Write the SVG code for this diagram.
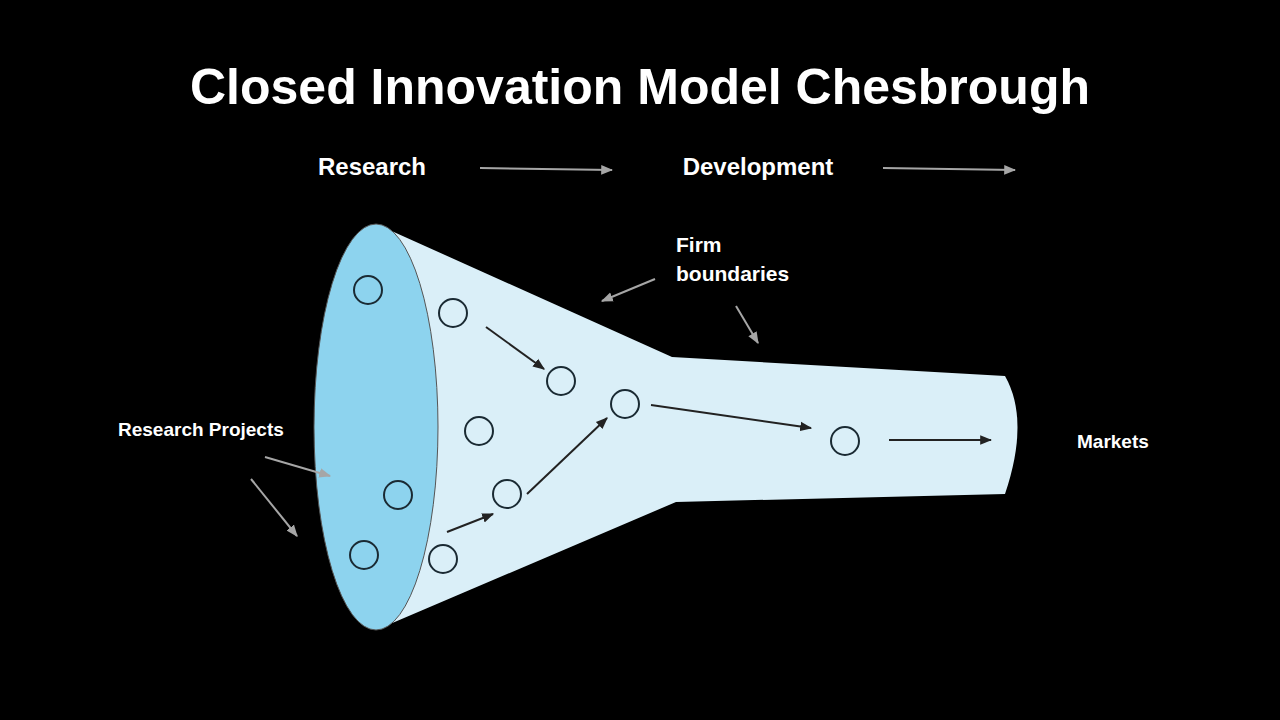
<svg xmlns="http://www.w3.org/2000/svg" width="1280" height="720" viewBox="0 0 1280 720">
<defs>
<marker id="ag" viewBox="0 0 10 10" refX="9" refY="5" markerWidth="6" markerHeight="6" orient="auto"><path d="M0,1 L10,5 L0,9 z" fill="#a6a6a6"/></marker>
<marker id="ad" viewBox="0 0 10 10" refX="9" refY="5" markerWidth="6" markerHeight="6" orient="auto"><path d="M0,1 L10,5 L0,9 z" fill="#222"/></marker>
<style>
text{font-family:"Liberation Sans",Arial,sans-serif;font-weight:bold;fill:#fff}
.c{fill:none;stroke:#1a2a33;stroke-width:2}
.g{stroke:#a6a6a6;stroke-width:2;fill:none;marker-end:url(#ag)}
.d{stroke:#222;stroke-width:2;fill:none;marker-end:url(#ad)}
</style>
</defs>
<rect width="1280" height="720" fill="#000"/>
<text x="640" y="104" font-size="50" text-anchor="middle">Closed Innovation Model Chesbrough</text>
<text x="372" y="175" font-size="24" text-anchor="middle">Research</text>
<text x="758" y="175" font-size="24" text-anchor="middle">Development</text>
<text x="676" y="252" font-size="21">Firm</text>
<text x="676" y="281" font-size="21">boundaries</text>
<text x="118" y="436" font-size="19">Research Projects</text>
<text x="1077" y="448" font-size="19">Markets</text>
<g id="funnel">
<path d="M376,224 L672,357 L1005,376 Q1030,420 1005,494 L676,502 L390,624 Z" fill="#daeff8"/>
<ellipse cx="376" cy="427" rx="62" ry="203" fill="#8dd3ee" stroke="#555" stroke-width="1"/>
</g>
<g id="nodes">
<circle class="c" cx="368" cy="290" r="14"/>
<circle class="c" cx="453" cy="313" r="14"/>
<circle class="c" cx="561" cy="381" r="14"/>
<circle class="c" cx="479" cy="431" r="14"/>
<circle class="c" cx="625" cy="404" r="14"/>
<circle class="c" cx="398" cy="495" r="14"/>
<circle class="c" cx="507" cy="494" r="14"/>
<circle class="c" cx="364" cy="555" r="14"/>
<circle class="c" cx="443" cy="559" r="14"/>
<circle class="c" cx="845" cy="441" r="14"/>
</g>
<g id="connectors">
<line class="g" x1="480" y1="168" x2="612" y2="170"/>
<line class="g" x1="883" y1="168" x2="1015" y2="170"/>
<line class="g" x1="655" y1="279" x2="602" y2="301"/>
<line class="g" x1="736" y1="306" x2="758" y2="343"/>
<line class="g" x1="265" y1="457" x2="330" y2="476"/>
<line class="g" x1="251" y1="479" x2="297" y2="536"/>
<line class="d" x1="486" y1="327" x2="544" y2="369"/>
<line class="d" x1="447" y1="532" x2="493" y2="514"/>
<line class="d" x1="527" y1="494" x2="607" y2="418"/>
<line class="d" x1="651" y1="405" x2="811" y2="428"/>
<line class="d" x1="889" y1="440" x2="991" y2="440"/>
</g>
</svg>
